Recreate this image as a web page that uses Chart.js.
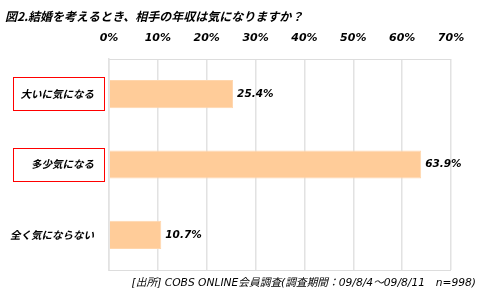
<!DOCTYPE html>
<html>
<head>
<meta charset="utf-8">
<script src="https://cdn.jsdelivr.net/npm/chart.js@4"></script>
<style>
    html, body { margin: 0; padding: 0; background: #ffffff; }
    #wrap { width: 485px; height: 302px; }
</style>
</head>
<body>
<div id="wrap"><canvas id="nenshu"></canvas></div>
<script>
const labels = [
    '大いに気になる',
    '多少気になる',
    '全く気にならない'
];
const values = [25.4, 63.9, 10.7];
const tickValues = [0, 10, 20, 30, 40, 50, 60, 70];
const boxedLabels = [0, 1];

const titleText = '図2.結婚を考えるとき、相手の年収は気になりますか？';
const sourceText = '[出所] COBS ONLINE会員調査(調査期間：09/8/4〜09/8/11　n=998)';

const jpFont = "'Noto Sans CJK JP', 'Noto Sans', sans-serif";
const numFont = "'DejaVu Sans', 'Noto Sans CJK JP', sans-serif";

//title, source, value labels, red boxes
const extras = {
    id: 'extras',
    afterDraw(chart) {
        const ctx = chart.ctx;
        const area = chart.chartArea;
        ctx.save();

        // bottom border
        ctx.strokeStyle = '#dddddd';
        ctx.lineWidth = 1;
        ctx.beginPath();
        ctx.moveTo(area.left, area.bottom + 0.5);
        ctx.lineTo(area.right, area.bottom + 0.5);
        ctx.stroke();

        ctx.fillStyle = '#000000';
        ctx.textBaseline = 'middle';
        ctx.textAlign = 'left';
        ctx.font = 'italic bold 12px ' + jpFont;
        ctx.fillText(titleText, 5, 16);

        ctx.font = 'italic 10.7px ' + numFont;
        ctx.textAlign = 'right';
        ctx.fillText(sourceText, 476, 283);

        const meta = chart.getDatasetMeta(0);
        ctx.font = 'italic bold 10.5px ' + numFont;
        ctx.textAlign = 'left';
        meta.data.forEach((bar, i) => {
            ctx.fillText(values[i].toFixed(1) + '%', bar.x + 4, bar.y);
        });

        const yScale = chart.scales.y;
        ctx.strokeStyle = '#ff0000';
        ctx.lineWidth = 1;
        boxedLabels.forEach(i => {
            const cy = yScale.getPixelForTick(i);
            ctx.strokeRect(13.5, Math.round(cy) - 16.5, 91, 33);
        });
        ctx.restore();
    }
};

const data = {
    labels: labels,
    datasets: [{
        data: values,
        backgroundColor: 'rgb(255, 204, 153)',
        borderColor: 'rgb(255, 214, 173)',
        borderWidth: 1,
        barPercentage: 0.8,
        categoryPercentage: 0.5
    }]
};

const config = {
    type: 'bar',
    data: data,
    options: {
        indexAxis: 'y',
        responsive: true,
        maintainAspectRatio: false,
        animation: false,
        layout: {
            padding: {
                top: 29,
                right: 34,
                bottom: 32,
                left: 0
            }
        },
        plugins: {
            legend: { display: false },
            tooltip: { enabled: false }
        },
        scales: {
            x: {
                position: 'top',
                min: 0,
                max: 70,
                afterBuildTicks: (scale) => {
                    scale.ticks = tickValues.map(v => ({ value: v }));
                },
                afterFit: (scale) => { scale.height = 30; },
                ticks: {
                    color: '#000000',
                    padding: 14,
                    callback: (v) => v + '%',
                    font: {
                        family: numFont,
                        size: 11,
                        style: 'italic',
                        weight: 'bold'
                    }
                },
                grid: {
                    color: '#e2e2e2',
                    lineWidth: 1.5,
                    drawTicks: false
                },
                border: {
                    color: '#dddddd'
                }
            },
            y: {
                afterFit: (scale) => { scale.width = 109; },
                ticks: {
                    color: '#000000',
                    padding: 7,
                    font: {
                        family: jpFont,
                        size: 10.5,
                        style: 'italic',
                        weight: 'bold'
                    }
                },
                grid: { display: false },
                border: {
                    color: '#e2e2e2',
                    width: 1.5
                }
            }
        }
    },
    plugins: [extras]
};

var chartNenshu = new Chart(
    document.getElementById('nenshu'),
    config
);
</script>
</body>
</html>
